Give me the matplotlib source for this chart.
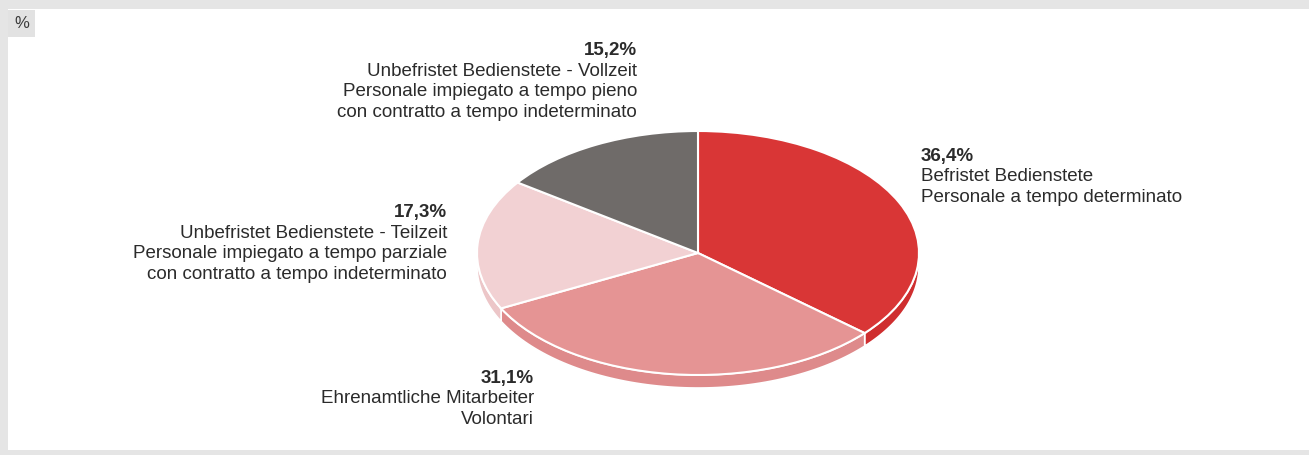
import numpy as np
from matplotlib import pyplot as plt
from matplotlib.patches import Wedge, Polygon, Rectangle
from matplotlib.transforms import Affine2D

# slice data, clockwise from 12 o'clock
values = [36.4, 31.1, 17.3, 15.2]
value_labels = ['36,4%', '31,1%', '17,3%', '15,2%']
labels_de = ['Befristet Bedienstete', 'Ehrenamtliche Mitarbeiter',
             'Unbefristet Bedienstete - Teilzeit', 'Unbefristet Bedienstete - Vollzeit']
labels_it = [['Personale a tempo determinato'], ['Volontari'],
             ['Personale impiegato a tempo parziale', 'con contratto a tempo indeterminato'],
             ['Personale impiegato a tempo pieno', 'con contratto a tempo indeterminato']]
top_colors = ['#d93636', '#e59494', '#f2d1d3', '#6f6b69']
side_colors = ['#cf2e2f', '#de8a8b', '#ecc6c8', '#625e5c']

W, H = 1309, 455
cx, cy = 698, 253
a, b = 221, 122
depth = 13

plt.rcParams['font.family'] = ['Liberation Sans', 'DejaVu Sans']

fig = plt.figure(figsize=(W / 100, H / 100), dpi=100)
fig.set_facecolor('#e5e5e5')
ax = fig.add_axes([0, 0, 1, 1])
ax.set_xlim(0, W)
ax.set_ylim(H, 0)
ax.axis('off')

# white panel and the little unit box
ax.add_patch(Rectangle((8, 9), W - 8, 441, facecolor='white', edgecolor='none'))
ax.add_patch(Rectangle((8, 10), 27, 27, facecolor='#e2e2e2', edgecolor='none'))
ax.text(21.5, 24, '%', ha='center', va='center', fontsize=12, color='#3a3a3a')

ell = Affine2D().scale(a, -b).translate(cx, cy) + ax.transData

# slice angles (degrees, math convention)
starts = []
t = 90.0
for v in values:
    starts.append((t - 360 * v / 100, t))
    t -= 360 * v / 100

# side walls: only the front half (180..360 deg) is visible
for (t1, t2), col in zip(starts, side_colors):
    lo, hi = t1 % 360, t1 % 360 + (t2 - t1)
    for off in (0, 360, -360):
        s, e = max(lo + off, 180), min(hi + off, 360)
        if e <= s:
            continue
        tt = np.radians(np.linspace(s, e, 80))
        xs = cx + a * np.cos(tt)
        ys = cy - b * np.sin(tt)
        pts = np.vstack([np.column_stack([xs, ys]),
                         np.column_stack([xs[::-1], ys[::-1] + depth])])
        ax.add_patch(Polygon(pts, closed=True, facecolor=col, edgecolor='white', linewidth=1.2))

# top faces
for (t1, t2), col in zip(starts, top_colors):
    ax.add_patch(Wedge((0, 0), 1, t1, t2, facecolor=col, edgecolor='white',
                       linewidth=1.5, transform=ell))

text_col = '#2b2b2b'
fs = 13.5
lh = 20.5


def label(x, y, ha, i):
    ax.text(x, y, value_labels[i], ha=ha, va='center', fontsize=fs,
            fontweight='bold', color=text_col)
    lines = [labels_de[i]] + labels_it[i]
    for k, line in enumerate(lines):
        ax.text(x, y + lh * (k + 1), line, ha=ha, va='center', fontsize=fs, color=text_col)


label(921, 156, 'left', 0)
label(534, 378, 'right', 1)
label(447, 213, 'right', 2)
label(637, 51, 'right', 3)

fig.savefig('out.png', dpi=100, facecolor=fig.get_facecolor())
